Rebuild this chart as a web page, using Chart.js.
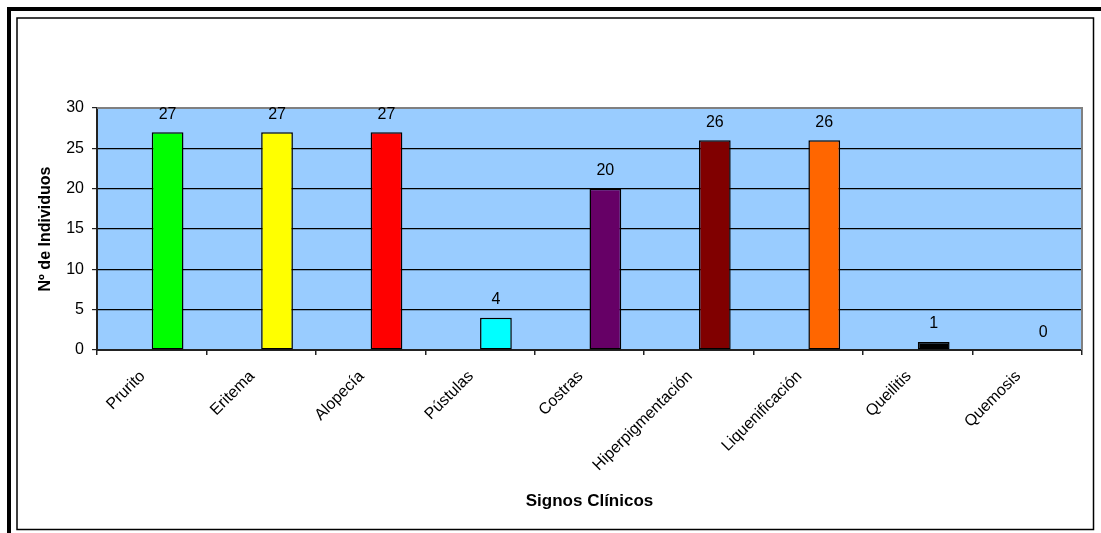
<!DOCTYPE html>
<html>
<head>
<meta charset="utf-8">
<script src="https://cdn.jsdelivr.net/npm/chart.js@4"></script>
<style>
  body { margin: 0; background: #fff; }
  #chart { display: block; }
</style>
</head>
<body>
<canvas id="chart" width="1101" height="533"></canvas>
<script>
'use strict';

// data
const signos = ['Prurito', 'Eritema', 'Alopecía', 'Pústulas', 'Costras',
  'Hiperpigmentación', 'Liquenificación', 'Queilitis', 'Quemosis'];
const individuos = [27, 27, 27, 4, 20, 26, 26, 1, 0];
const barColors = ['#00FF00', '#FFFF00', '#FF0000', '#00FFFF', '#660066',
  '#800000', '#FF6600', '#000000', '#000000'];
const yTicks = [0, 5, 10, 15, 20, 25, 30];

Chart.defaults.font.family = "'Liberation Sans', Arial, sans-serif";
Chart.defaults.color = '#000';

let canvasElem = document.getElementById('chart');

// white page, double frame and the blue plot area
const backdrop = {
  id: 'backdrop',
  beforeDraw(chart) {
    const {ctx, chartArea: a} = chart;
    ctx.save();
    ctx.fillStyle = '#fff';
    ctx.fillRect(0, 0, chart.width, chart.height);
    ctx.fillStyle = '#000';
    ctx.fillRect(7, 7, chart.width - 7, 4);
    ctx.fillRect(7, 7, 4, chart.height - 7);
    ctx.lineWidth = 1.5;
    ctx.strokeStyle = '#000';
    ctx.strokeRect(17, 18, 1076.5, 511.5);
    ctx.fillStyle = '#99CCFF';
    ctx.fillRect(a.left, a.top, a.right - a.left, a.bottom - a.top);
    ctx.restore();
  },
  afterDatasetsDraw(chart) {
    const {ctx, chartArea: a} = chart;
    ctx.save();
    ctx.strokeStyle = '#808080';
    ctx.lineWidth = 2;
    ctx.beginPath();
    ctx.moveTo(a.left, a.top);
    ctx.lineTo(a.right, a.top);
    ctx.lineTo(a.right, a.bottom);
    ctx.stroke();
    ctx.restore();
  }
};

// value above every bar
const valueLabels = {
  id: 'valueLabels',
  afterDatasetsDraw(chart) {
    const {ctx} = chart;
    const meta = chart.getDatasetMeta(1);
    ctx.save();
    ctx.font = "16px 'Liberation Sans', Arial, sans-serif";
    ctx.fillStyle = '#000';
    ctx.textAlign = 'center';
    ctx.textBaseline = 'alphabetic';
    meta.data.forEach((bar, i) => {
      ctx.fillText(String(individuos[i]), bar.x, bar.y - 13.5);
    });
    ctx.restore();
  }
};

function renderChart() {
  new Chart(canvasElem, {
    type: 'bar',
    data: {
      labels: signos,
      datasets: [{
        // empty first series, keeps the bars right of the category centre
        label: '',
        data: signos.map(() => null),
      }, {
        label: 'Nº de Individuos',
        data: individuos,
        backgroundColor: barColors,
        borderColor: '#000',
        borderWidth: 1.5,
        borderSkipped: false,
      }]
    },
    options: {
      responsive: false,
      animation: false,
      datasets: { bar: { categoryPercentage: 0.58, barPercentage: 1 } },
      layout: { padding: { left: 36, top: 108, right: 19, bottom: 21 } },
      plugins: { legend: { display: false }, tooltip: { enabled: false } },
      scales: {
        x: {
          grid: { offset: true, drawOnChartArea: false, tickLength: 5, color: '#222', tickColor: '#222', lineWidth: 1.5 },
          border: { color: '#222', width: 2 },
          ticks: { font: { size: 16 }, maxRotation: 45, minRotation: 45, padding: 12, labelOffset: -9 },
          title: { display: true, text: 'Signos Clínicos', font: { size: 17, weight: 'bold' }, padding: 0 },
          afterFit(scale) { scale.height = 162; }
        },
        y: {
          min: 0,
          max: 30,
          afterBuildTicks(scale) { scale.ticks = yTicks.map(v => ({value: v})); },
          grid: {
            color: ctx => ctx.tick && ctx.tick.value === 30 ? '#808080' : '#000',
            tickColor: '#222',
            tickLength: 5,
            lineWidth: 1.2
          },
          border: { color: '#222', width: 2 },
          ticks: { font: { size: 16 }, padding: 8 },
          title: { display: true, text: 'Nº de Individuos', font: { size: 16, weight: 'bold' }, padding: 0 },
          afterFit(scale) { scale.width = 61; }
        }
      }
    },
    plugins: [backdrop, valueLabels]
  });
}

renderChart();
</script>
</body>
</html>
